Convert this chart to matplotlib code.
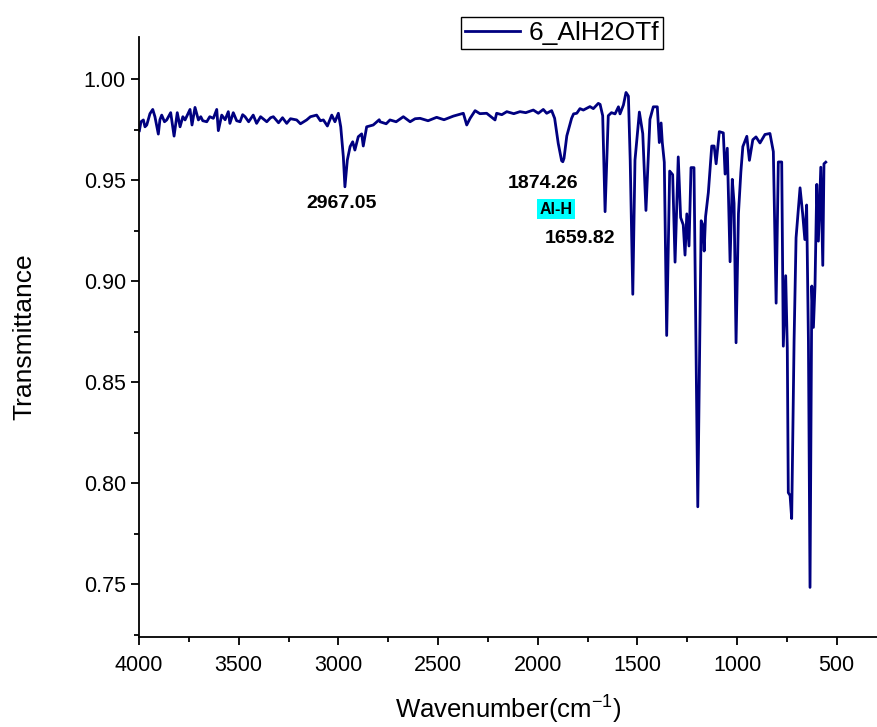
import matplotlib
matplotlib.use("Agg")
import matplotlib.pyplot as plt
from matplotlib.ticker import MultipleLocator, FormatStrFormatter

plt.rcParams['font.family'] = ['Liberation Sans', 'DejaVu Sans']

# IR spectrum (wavenumber in cm-1, transmittance)
wavenumber = [
    3998, 3990, 3978, 3970, 3961, 3945, 3931, 3920, 3903, 3895, 3886, 3872,
    3861, 3841, 3824, 3808, 3794, 3780, 3769, 3744, 3734, 3719, 3702, 3690,
    3680, 3660, 3645, 3627, 3610, 3602, 3585, 3568, 3552, 3544, 3527, 3510,
    3493, 3480, 3468, 3450, 3427, 3410, 3390, 3359, 3340, 3326, 3300, 3280,
    3259, 3240, 3209, 3190, 3159, 3140, 3109, 3090, 3075, 3055, 3033, 3017,
    3000, 2988, 2975, 2967, 2955, 2941, 2928, 2917, 2900, 2883, 2875, 2858,
    2825, 2795, 2791, 2760, 2741, 2710, 2674, 2640, 2615, 2590, 2550, 2507,
    2470, 2423, 2373, 2356, 2339, 2314, 2290, 2256, 2214, 2206, 2180, 2155,
    2120, 2089, 2060, 2022, 1997, 1972, 1955, 1930, 1915, 1897, 1880, 1874,
    1868, 1854, 1830, 1820, 1804, 1788, 1771, 1738, 1721, 1696, 1687, 1674,
    1662, 1646, 1630, 1612, 1595, 1587, 1570, 1557, 1545, 1536, 1523, 1512,
    1490, 1473, 1457, 1437, 1420, 1400, 1390, 1381, 1375, 1365, 1353, 1338,
    1323, 1311, 1295, 1283, 1270, 1261, 1252, 1241, 1231, 1216, 1197, 1180,
    1172, 1165, 1158, 1144, 1127, 1115, 1105, 1089, 1069, 1060, 1049, 1035,
    1024, 1015, 1005, 993, 981, 971, 951, 938, 921, 905, 885, 860,
    835, 818, 804, 793, 776, 768, 756, 748, 743, 734, 726, 714,
    704, 684, 671, 660, 651, 642, 634, 625, 617, 609, 600, 592,
    580, 570, 564, 555,
]
transmittance = [
    0.9746, 0.9790, 0.9799, 0.9765, 0.9774, 0.9830, 0.9851, 0.9815, 0.9729, 0.9800, 0.9823, 0.9790,
    0.9799, 0.9835, 0.9719, 0.9835, 0.9765, 0.9815, 0.9799, 0.9851, 0.9774, 0.9861, 0.9799, 0.9815,
    0.9795, 0.9790, 0.9815, 0.9807, 0.9851, 0.9746, 0.9823, 0.9800, 0.9840, 0.9782, 0.9835, 0.9795,
    0.9790, 0.9825, 0.9815, 0.9790, 0.9823, 0.9782, 0.9815, 0.9790, 0.9810, 0.9815, 0.9785, 0.9810,
    0.9782, 0.9805, 0.9799, 0.9780, 0.9799, 0.9815, 0.9823, 0.9795, 0.9799, 0.9769, 0.9823, 0.9790,
    0.9832, 0.9765, 0.9617, 0.9468, 0.9600, 0.9667, 0.9691, 0.9650, 0.9716, 0.9730, 0.9670, 0.9765,
    0.9774, 0.9800, 0.9790, 0.9780, 0.9799, 0.9790, 0.9815, 0.9790, 0.9805, 0.9807, 0.9795, 0.9812,
    0.9800, 0.9818, 0.9832, 0.9774, 0.9807, 0.9845, 0.9830, 0.9832, 0.9799, 0.9832, 0.9825, 0.9840,
    0.9830, 0.9840, 0.9835, 0.9848, 0.9832, 0.9851, 0.9832, 0.9845, 0.9807, 0.9683, 0.9597, 0.9592,
    0.9609, 0.9720, 0.9807, 0.9829, 0.9832, 0.9855, 0.9848, 0.9865, 0.9855, 0.9881, 0.9876, 0.9820,
    0.9345, 0.9820, 0.9835, 0.9829, 0.9864, 0.9829, 0.9873, 0.9935, 0.9917, 0.9600, 0.8936, 0.9600,
    0.9838, 0.9731, 0.9351, 0.9802, 0.9864, 0.9864, 0.9687, 0.9784, 0.9687, 0.9590, 0.8732, 0.9546,
    0.9528, 0.9095, 0.9616, 0.9316, 0.9280, 0.9130, 0.9334, 0.9175, 0.9563, 0.9563, 0.7884, 0.9300,
    0.9280, 0.9150, 0.9320, 0.9440, 0.9670, 0.9670, 0.9582, 0.9741, 0.9735, 0.9531, 0.9659, 0.9097,
    0.9505, 0.9386, 0.8696, 0.9335, 0.9540, 0.9667, 0.9718, 0.9599, 0.9701, 0.9715, 0.9685, 0.9727,
    0.9732, 0.9642, 0.8892, 0.9591, 0.9591, 0.8679, 0.9028, 0.8670, 0.7954, 0.7940, 0.7826, 0.8704,
    0.9216, 0.9463, 0.9335, 0.9207, 0.9378, 0.8704, 0.7485, 0.8977, 0.8772, 0.8977, 0.9480, 0.9199,
    0.9565, 0.9079, 0.9582, 0.9590,
]

peak_labels = ['2967.05', '1874.26', '1659.82']
peak_label_x = [2983, 1973, 1788]
peak_label_y = [0.9383, 0.9482, 0.9214]

fig = plt.figure(figsize=(8.78, 7.27), dpi=100)
ax = fig.add_axes([0.1583, 0.1234, 0.8417, 0.8261])

ax.plot(wavenumber, transmittance, color='#000080', lw=2.0, label='6_AlH2OTf')

ax.set_xlim(4000, 293)
ax.set_ylim(0.7238, 1.0211)

for s in ['top', 'right']:
    ax.spines[s].set_visible(False)
for s in ['left', 'bottom']:
    ax.spines[s].set_linewidth(1.3)

ax.xaxis.set_major_locator(MultipleLocator(500))
ax.xaxis.set_minor_locator(MultipleLocator(250))
ax.yaxis.set_major_locator(MultipleLocator(0.05))
ax.yaxis.set_minor_locator(MultipleLocator(0.025))
ax.yaxis.set_major_formatter(FormatStrFormatter('%.2f'))
ax.tick_params(which='major', direction='out', length=6, width=1.3, labelsize=15.5)
ax.tick_params(axis='x', which='major', pad=7)
ax.tick_params(which='minor', direction='out', length=3.5, width=1.3)

ax.set_xlabel('Wavenumber(cm$^{\\mathregular{-1}}$)', fontsize=18.5, labelpad=11)
ax.set_ylabel('Transmittance', fontsize=19, labelpad=34)

for lab, lx, ly in zip(peak_labels, peak_label_x, peak_label_y):
    ax.text(lx, ly, lab, fontsize=14, fontweight='bold', ha='center', va='center')

ax.text(1908, 0.9358, 'Al-H', fontsize=11.5, fontweight='bold', ha='center', va='center',
        bbox=dict(facecolor='#00ffff', edgecolor='none', pad=2))

leg = ax.legend(loc='upper left', bbox_to_anchor=(0.4357, 1.0328), fontsize=19,
                frameon=True, fancybox=False, edgecolor='black', framealpha=1,
                handlelength=2.1, handletextpad=0.3, borderpad=0.15, borderaxespad=0)
leg.get_frame().set_linewidth(1.0)

fig.savefig('out.png', dpi=100)
